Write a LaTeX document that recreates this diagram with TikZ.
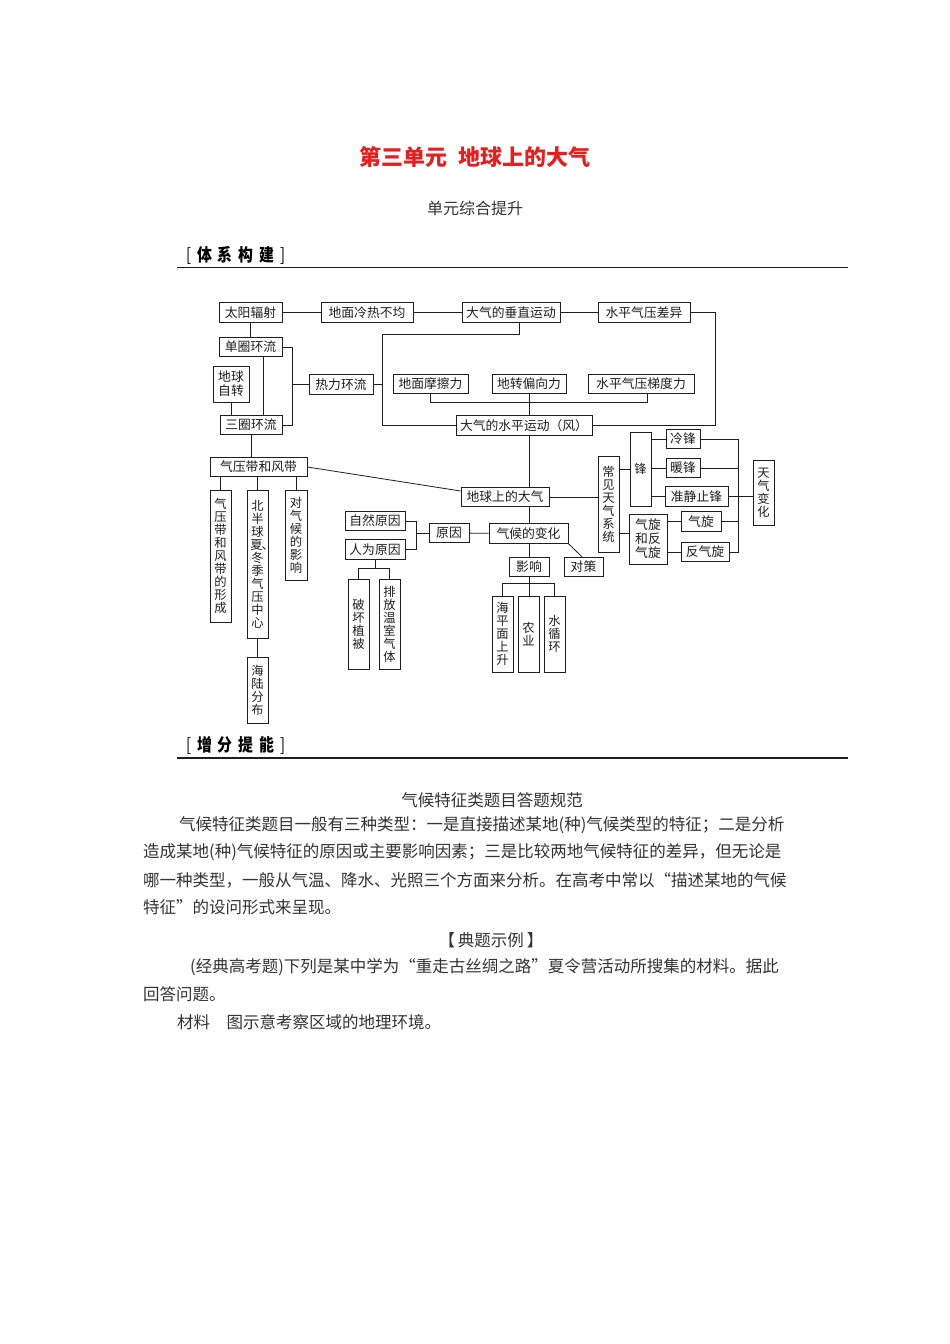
\documentclass[tikz,border=0pt]{standalone}
\usepackage{fontspec}
\setmainfont{Noto Sans CJK SC}
\usepackage{graphicx}
\usetikzlibrary{positioning,calc}
\XeTeXlinebreaklocale "zh"
\XeTeXlinebreakskip=0pt plus 3pt
\definecolor{titlered}{HTML}{E61E1E}
\definecolor{inkc}{HTML}{1E1E1E}
\definecolor{textc}{HTML}{333333}

\begin{document}
\begin{tikzpicture}[x=1pt, y=-1pt,
  hnode/.style={draw=inkc, line width=0.9pt, inner sep=0pt, minimum height=19.5pt,
               font=\fontsize{12.8}{14}\selectfont, text=inkc},
  vnode/.style={draw=inkc, line width=0.9pt, inner sep=0pt, text width=21pt, align=center,
               font=\fontsize{12.3}{13}\selectfont, text=inkc},
  link/.style={draw=inkc, line width=0.8pt},
  bodytext/.style={anchor=west, inner sep=0pt, font=\fontsize{16.5}{18}\selectfont, text=textc},
  header/.style={anchor=west, inner sep=0pt, font=\fontsize{17.5}{17}\selectfont, text=black}
]
  \useasboundingbox (0,0) rectangle (950,1344);
  \fill[white] (0,0) rectangle (950,1344);

  % page head
  \node[inner sep=0pt, font=\fontsize{22}{24}\selectfont\bfseries, text=titlered] (ttl) at (475,157)
    {第三单元\hspace{11pt}地球上的大气};
  \node[inner sep=0pt, font=\fontsize{16}{18}\selectfont, text=textc] (sub) at (475,208) {单元综合提升};
  \node[header] (hd1) at (186,255)
    {\scalebox{0.85}[1]{[\hspace{7pt}\textbf{体}\hspace{7pt}\textbf{系}\hspace{7pt}\textbf{构}\hspace{7pt}\textbf{建}\hspace{7pt}]}};
  \draw[line width=1.3pt, inkc] (177,267.5) -- (848,267.5);

  % top row
  \node[hnode, minimum width=63pt] (tyfs) at (250.5,312.5) {太阳辐射};
  \node[hnode, minimum width=92pt] (dmlr) at (367,312.5) {地面冷热不均};
  \node[hnode, minimum width=98pt] (czyd) at (511,312.5) {大气的垂直运动};
  \node[hnode, minimum width=92pt] (spqy) at (644,312.5) {水平气压差异};
  % circulations
  \node[hnode, minimum width=63pt] (dqhl) at (250.5,347) {单圈环流};
  \node[hnode, minimum width=36pt, minimum height=36pt, align=center] (dqzz) at (231,384) {地球\\自转};
  \node[hnode, minimum width=62pt] (sqhl) at (251,425) {三圈环流};
  \node[hnode, minimum width=64pt] (rlhl) at (341,384.5) {热力环流};
  % forces and wind
  \node[hnode, minimum width=75pt] (dmmc) at (430.5,384) {地面摩擦力};
  \node[hnode, minimum width=74pt] (dzpx) at (529,384) {地转偏向力};
  \node[hnode, minimum width=106pt] (spqt) at (641,384) {水平气压梯度力};
  \node[hnode, minimum width=136pt] (spyd) at (524,425.5) {大气的水平运动（风）};
  % middle
  \node[hnode, minimum width=97pt] (qydf) at (258.5,467) {气压带和风带};
  \node[hnode, minimum width=88pt] (dqdq) at (505,497) {地球上的大气};
  \node[hnode, minimum width=60pt] (zryy) at (375,521) {自然原因};
  \node[hnode, minimum width=60pt] (rwyy) at (375,549.5) {人为原因};
  \node[hnode, minimum width=40pt] (yy) at (449,533) {原因};
  \node[hnode, minimum width=79pt] (qhbh) at (528.5,533.5) {气候的变化};
  \node[hnode, minimum width=40pt] (yx) at (529,567) {影响};
  \node[hnode, minimum width=39pt] (dc) at (583.5,567) {对策};
  % weather systems
  \node[vnode, minimum height=96pt] (cjtq) at (608.5,504) {常\\见\\天\\气\\系\\统};
  \node[vnode, minimum height=74pt] (feng) at (640.5,469) {锋};
  \node[hnode, minimum width=38pt, minimum height=50pt, align=center] (qxfq) at (648,539) {气旋\\和反\\气旋};
  \node[hnode, minimum width=34pt] (lf) at (683,439) {冷锋};
  \node[hnode, minimum width=34pt] (nf) at (683,468) {暖锋};
  \node[hnode, minimum width=63pt] (jjzf) at (696.5,496.5) {准静止锋};
  \node[hnode, minimum width=40pt] (qx) at (701,521.5) {气旋};
  \node[hnode, minimum width=48pt] (fqx) at (705,552) {反气旋};
  \node[vnode, minimum height=65pt] (tqbh) at (763.5,492.5) {天\\气\\变\\化};
  % upright boxes
  \node[vnode, minimum height=132pt] (qyxc) at (220.5,556) {气\\压\\带\\和\\风\\带\\的\\形\\成};
  \node[vnode, minimum height=148pt] (bbq) at (257.5,564)
    {北\\半\\球\\\makebox[12.3pt][c]{\hspace{-2pt}夏\rlap{\hspace{-1pt}、}}\\冬\\季\\气\\压\\中\\心};
  \node[vnode, text width=22pt, minimum height=90pt] (dqhy) at (296,535) {对\\气\\候\\的\\影\\响};
  \node[vnode, minimum height=66pt] (hlfb) at (257.5,690) {海\\陆\\分\\布};
  \node[vnode, minimum height=90pt] (phzb) at (358.5,624) {破\\坏\\植\\被};
  \node[vnode, minimum height=90pt] (pfws) at (389.5,624) {排\\放\\温\\室\\气\\体};
  \node[vnode, minimum height=76pt] (hpms) at (502.5,634) {海\\平\\面\\上\\升};
  \node[vnode, minimum height=76pt] (ny) at (528.5,634) {农\\业};
  \node[vnode, minimum height=76pt] (xxh) at (554.5,634) {水\\循\\环};

  % links
  \draw[link] (tyfs) -- (dmlr);  \draw[link] (dmlr) -- (czyd);
  \draw[link] (czyd) -- (spqy);  \draw[link] (tyfs) -- (dqhl);
  \draw[link] (dqhl.east) -- ++(10,0) coordinate (b1) |- (sqhl.east);
  \draw[link] (b1 |- rlhl.west) -- (rlhl.west);
  \coordinate (c1) at ([xshift=12.5pt]dqhl.south);
  \draw[link] (c1) -- (c1 |- sqhl.north);
  \draw[link] (dqzz.south) -- (dqzz.south |- sqhl.north);
  \draw[link] (sqhl.south) -- (sqhl.south |- qydf.north);
  \coordinate (b2) at (382,334);
  \draw[link] ([xshift=8pt]czyd.south) |- (b2) -- (b2 |- spyd.west) -- (spyd.west);
  \draw[link] (rlhl.east) -- (rlhl.east -| b2);
  \coordinate (b3) at (647,402);
  \draw[link] (dmmc.south) |- (b3) -- (b3 |- spqt.south);
  \draw[link] (dzpx.south) -- (dzpx.south |- spyd.north);
  \draw[link] (spqy.east) -- ++(25,0) |- (spyd.east);
  \coordinate (c2) at (dzpx.south |- spyd.south);
  \draw[link] (c2) -- (c2 |- dqdq.north);
  \draw[link] (c2 |- dqdq.south) -- (c2 |- qhbh.north);
  \draw[link] (c2 |- qhbh.south) -- (c2 |- yx.north);
  \draw[link] (qydf.east) -- ([yshift=6pt]dqdq.west);
  \draw[link] (qyxc.north |- qydf.south) -- (qyxc.north);
  \draw[link] (bbq.north |- qydf.south) -- (bbq.north);
  \draw[link] (dqhy.north |- qydf.south) -- (dqhy.north);
  \draw[link] (bbq) -- (hlfb);
  \draw[link] (dqdq.east) -- (dqdq.east -| cjtq.west);
  \draw[link] (qhbh) -- (yy);
  \draw[link] (yy.west) -- ++(-12,0) coordinate (b4);
  \draw[link] (zryy.east) -| (b4) |- (rwyy.east);
  \draw[link] (rwyy.south) -- ++(0,9) coordinate (b5);
  \draw[link] (phzb.north) |- (b5) -| (pfws.north);
  \draw[link] (qhbh.south east) -- ([xshift=-1.5pt]dc.north);
  \draw[link] (yx.south) -- ++(0,6) coordinate (b6);
  \draw[link] (hpms.north) |- (b6) -| (xxh.north);
  \draw[link] (b6) -- (b6 |- ny.north);
  \coordinate (c3) at ([yshift=6pt]qxfq.west);
  \draw[link] (cjtq.east |- feng.west) -- (feng.west);
  \draw[link] (cjtq.east |- c3) -- (c3);
  \draw[link] (feng.east |- lf.west) -- (lf.west);
  \draw[link] (feng.east |- nf.west) -- (nf.west);
  \draw[link] (feng.east |- jjzf.west) -- (jjzf.west);
  \draw[link] (qxfq.east |- qx.west) -- (qx.west);
  \draw[link] (qxfq.east |- fqx.west) -- (fqx.west);
  \coordinate (b7) at (738,439);
  \draw[link] (lf.east) -- (b7) |- (fqx.east);
  \draw[link] (nf.east) -- (nf.east -| b7);
  \draw[link] (qx.east) -- (qx.east -| b7);
  \draw[link] (jjzf.east) -- (jjzf.east -| tqbh.west);

  % second part of the page
  \node[header] (hd2) at (186,745)
    {\scalebox{0.85}[1]{[\hspace{7pt}\textbf{增}\hspace{7pt}\textbf{分}\hspace{7pt}\textbf{提}\hspace{7pt}\textbf{能}\hspace{7pt}]}};
  \draw[line width=1.3pt, inkc] (177,758) -- (848,758);
  \node[bodytext, anchor=center] (p0) at (492,800) {气候特征类题目答题规范};
  \node[bodytext] (p1) at (179,825)
    {\makebox[626pt][s]{气候特征类题目一般有三种类型：一是直接描述某地(种)气候类型的特征；二是分析}};
  \node[bodytext] (p2) at (143,852.5)
    {\makebox[662pt][s]{造成某地(种)气候特征的原因或主要影响因素；三是比较两地气候特征的差异，但无论是}};
  \node[bodytext] (p3) at (143,880)
    {\makebox[662pt][s]{哪一种类型，一般从气温、降水、光照三个方面来分析。在高考中常以“描述某地的气候}};
  \node[bodytext] (p4) at (143,907.5) {特征”的设问形式来呈现。};
  \node[bodytext, anchor=center] (p5) at (491,940) {【\hspace{3pt}典题示例\hspace{3pt}】};
  \node[bodytext] (p6) at (190,967)
    {\makebox[615pt][s]{(经典高考题)下列是某中学为“重走古丝绸之路”夏令营活动所搜集的材料。据此}};
  \node[bodytext] (p7) at (143,994.5) {回答问题。};
  \node[bodytext] (p8) at (177,1022) {材料\hspace{16.5pt}图示意考察区域的地理环境。};
\end{tikzpicture}
\end{document}
